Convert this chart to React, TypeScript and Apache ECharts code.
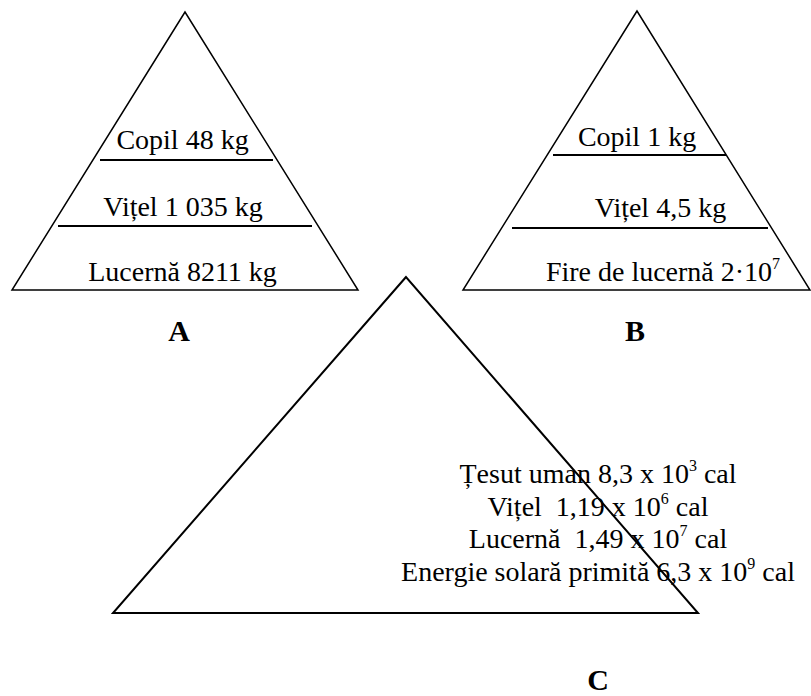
import React, { useEffect, useRef } from "react";
import * as echarts from "echarts";

// Pyramid A (biomass)
const pyramidALabels = ["Copil 48 kg", "Vițel 1 035 kg", "Lucernă 8211 kg"];
// Pyramid B (numbers) – [main text, superscript]
const pyramidBLabels: [string, string][] = [
  ["Copil 1 kg", ""],
  ["Vițel 4,5 kg", ""],
  ["Fire de lucernă 2·10", "7"],
];
// Pyramid C (energy) – [main text, superscript, suffix]
const pyramidCLabels: [string, string, string][] = [
  ["Țesut uman 8,3 x 10", "3", " cal"],
  ["Vițel  1,19 x 10", "6", " cal"],
  ["Lucernă  1,49 x 10", "7", " cal"],
  ["Energie solară primită 6,3 x 10", "9", " cal"],
];
const panelLetters = ["A", "B", "C"];

const FONT = "'Liberation Serif', 'Times New Roman', serif";
const FS = 28;

function richText(main: string, sup: string, suffix = "") {
  let s = `{n|${main}}`;
  if (sup) s += `{s|${sup}}`;
  if (suffix) s += `{n|${suffix}}`;
  return s;
}

const rich = {
  n: { fontSize: FS, fontFamily: FONT, fill: "#000", lineHeight: 30, verticalAlign: "bottom" },
  s: { fontSize: 16, fontFamily: FONT, fill: "#000", lineHeight: 30, verticalAlign: "top" },
};

export default function App() {
  const ref = useRef<HTMLDivElement>(null);
  useEffect(() => {
    document.body.style.margin = "0";
    if (!ref.current) return;
    const chart = echarts.init(ref.current, null, { renderer: "svg" });

    const els: any[] = [];
    const tri = (pts: number[][], lw: number) => ({
      type: "polygon",
      shape: { points: pts },
      style: { fill: "transparent", stroke: "#000", lineWidth: lw },
    });
    const hline = (x1: number, x2: number, y: number) => ({
      type: "line",
      shape: { x1, y1: y, x2, y2: y },
      style: { stroke: "#000", lineWidth: 2 },
    });
    const OFF = 3;
    const txt = (text: string, x: number, baseline: number) => ({
      type: "text",
      x,
      y: baseline + OFF,
      style: {
        text,
        rich,
        align: "center",
        verticalAlign: "bottom",
        font: `${FS}px ${FONT}`,
        fill: "#000",
      },
    });

    // Triangle A
    els.push(tri([[185, 12], [12, 290], [358, 290]], 1.5));
    els.push(hline(100, 273, 160));
    els.push(hline(58, 312, 226));
    const aX = [182.5, 183, 182.5];
    const aY = [150, 217, 282];
    pyramidALabels.forEach((l, i) => els.push(txt(richText(l, ""), aX[i], aY[i])));

    // Triangle B
    els.push(tri([[637, 11], [463, 290], [810, 290]], 1.5));
    els.push(hline(553, 726, 155));
    els.push(hline(512, 768, 228));
    const bX = [637, 660.5, 663];
    const bY = [147, 218, 282];
    pyramidBLabels.forEach((l, i) => els.push(txt(richText(l[0], l[1]), bX[i], bY[i])));

    // Triangle C
    els.push(tri([[406, 277], [113, 613], [698, 613]], 2));
    const cY = [484, 517, 549, 582];
    pyramidCLabels.forEach((l, i) => els.push(txt(richText(l[0], l[1], l[2]), 598, cY[i])));

    // Panel letters
    const letterPos = [[179, 342], [635, 342], [598, 691]];
    panelLetters.forEach((p, i) =>
      els.push({
        type: "text",
        x: letterPos[i][0],
        y: letterPos[i][1] + OFF,
        style: {
          text: p,
          align: "center",
          verticalAlign: "bottom",
          font: `bold 30px ${FONT}`,
          fill: "#000",
        },
      })
    );

    chart.setOption({
      animation: false,
      backgroundColor: "#fff",
      graphic: { elements: els },
    });
    return () => chart.dispose();
  }, []);
  return <div ref={ref} style={{ width: 811, height: 696 }} />;
}
